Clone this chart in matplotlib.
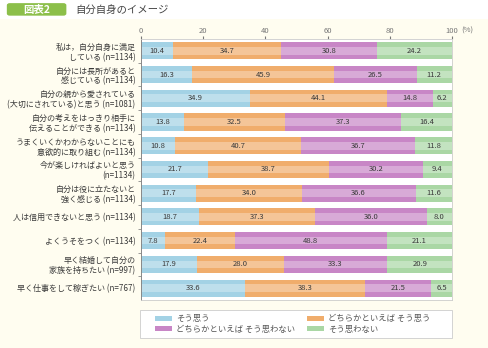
import numpy as np
import matplotlib.pyplot as plt
from matplotlib.patches import FancyBboxPatch, Rectangle, Patch

plt.rcParams['font.family'] = ['Noto Sans CJK JP', 'DejaVu Sans']

labels = [
    "私は，自分自身に満足\nしている (n=1134)",
    "自分には長所があると\n感じている (n=1134)",
    "自分の親から愛されている\n(大切にされている)と思う (n=1081)",
    "自分の考えをはっきり相手に\n伝えることができる (n=1134)",
    "うまくいくかわからないことにも\n意欲的に取り組む (n=1134)",
    "今が楽しければよいと思う\n(n=1134)",
    "自分は役に立たないと\n強く感じる (n=1134)",
    "人は信用できないと思う (n=1134)",
    "よくうそをつく (n=1134)",
    "早く結婚して自分の\n家族を持ちたい (n=997)",
    "早く仕事をして稼ぎたい (n=767)",
]

so_omou = [10.4, 16.3, 34.9, 13.8, 10.8, 21.7, 17.7, 18.7, 7.8, 17.9, 33.6]
dochira_omou = [34.7, 45.9, 44.1, 32.5, 40.7, 38.7, 34.0, 37.3, 22.4, 28.0, 38.3]
dochira_omowanai = [30.8, 26.5, 14.8, 37.3, 36.7, 30.2, 36.6, 36.0, 48.8, 33.3, 21.5]
omowanai = [24.2, 11.2, 6.2, 16.4, 11.8, 9.4, 11.6, 8.0, 21.1, 20.9, 6.5]

series = [so_omou, dochira_omou, dochira_omowanai, omowanai]
series_names = ["そう思う", "どちらかといえば そう思う",
                "どちらかといえば そう思わない", "そう思わない"]
colors = ["#a3d2e5", "#f0ad6c", "#c886c6", "#aad7a5"]

bg = "#fffdf0"
text_col = "#3a3a3a"

fig = plt.figure(figsize=(4.88, 3.48), dpi=100, facecolor=bg)

# header strip
fig.patches.append(Rectangle((0, 0.945), 1, 0.055, transform=fig.transFigure,
                             facecolor="white", edgecolor="none", zorder=0))
fig.patches.append(FancyBboxPatch((0.014, 0.955), 0.122, 0.036,
                                  boxstyle="round,pad=0,rounding_size=0.006",
                                  transform=fig.transFigure,
                                  facecolor="#8cbf4a", edgecolor="none"))
fig.text(0.075, 0.972, "図表2", color="white", fontsize=7.5, fontweight="bold",
         ha="center", va="center")
fig.text(0.155, 0.972, "自分自身のイメージ", color="#444444", fontsize=7.5,
         ha="left", va="center")

ax = fig.add_axes([0.289, 0.138, 0.637, 0.750])
ax.set_facecolor("white")

y = np.arange(len(labels))
left = np.zeros(len(labels))
for vals, c in zip(series, colors):
    vals = np.array(vals)
    ax.barh(y, vals, left=left, height=0.72, color=c, edgecolor="none")
    # lighter band through the middle of each bar
    ax.barh(y, vals, left=left, height=0.32, color="white", alpha=0.3,
            edgecolor="none")
    for yi, (l, v) in enumerate(zip(left, vals)):
        ax.text(l + v / 2, yi, f"{v:.1f}", ha="center", va="center",
                fontsize=5.5, color=text_col)
    left += vals

ax.set_xlim(0, 100)
ax.set_ylim(len(labels) - 0.5, -0.5)
ax.xaxis.tick_top()
ax.set_xticks([0, 20, 40, 60, 80, 100])
ax.set_xticklabels(["0", "20", "40", "60", "80", "100"])
ax.tick_params(axis="x", length=2, pad=1, labelsize=5.5, colors="#777777")
ax.annotate("(%)", xy=(103, 1), xycoords=("data", "axes fraction"),
            xytext=(0, 3), textcoords="offset points", fontsize=5.5,
            color="#777777", ha="left", va="bottom", annotation_clip=False)

ax.set_yticks(y)
ax.set_yticklabels(labels, fontsize=5.8, color=text_col, linespacing=1.15)
ax.tick_params(axis="y", length=0, pad=4)
ax.set_yticks(np.arange(len(labels) - 1) + 0.5, minor=True)
ax.tick_params(axis="y", which="minor", length=2, color="#888888")

for side in ["top", "right", "bottom"]:
    ax.spines[side].set_color("#cccccc")
    ax.spines[side].set_linewidth(0.6)
ax.spines["left"].set_color("#888888")
ax.spines["left"].set_linewidth(0.7)

# legend with its own frame
fig.patches.append(Rectangle((0.287, 0.029), 0.639, 0.080,
                             transform=fig.transFigure, facecolor="white",
                             edgecolor="#cccccc", linewidth=0.6))
handles = [Patch(facecolor=c, edgecolor="none") for c in colors]
order = [0, 2, 1, 3]
fig.legend([handles[i] for i in order], [series_names[i] for i in order],
           ncol=2, loc="center", bbox_to_anchor=(0.60, 0.069), frameon=False,
           fontsize=6, handlelength=2.0, handleheight=0.6, handletextpad=0.5,
           columnspacing=1.5, labelspacing=0.15, labelcolor="#555555")

fig.savefig("out.png", dpi=100, facecolor=bg)
